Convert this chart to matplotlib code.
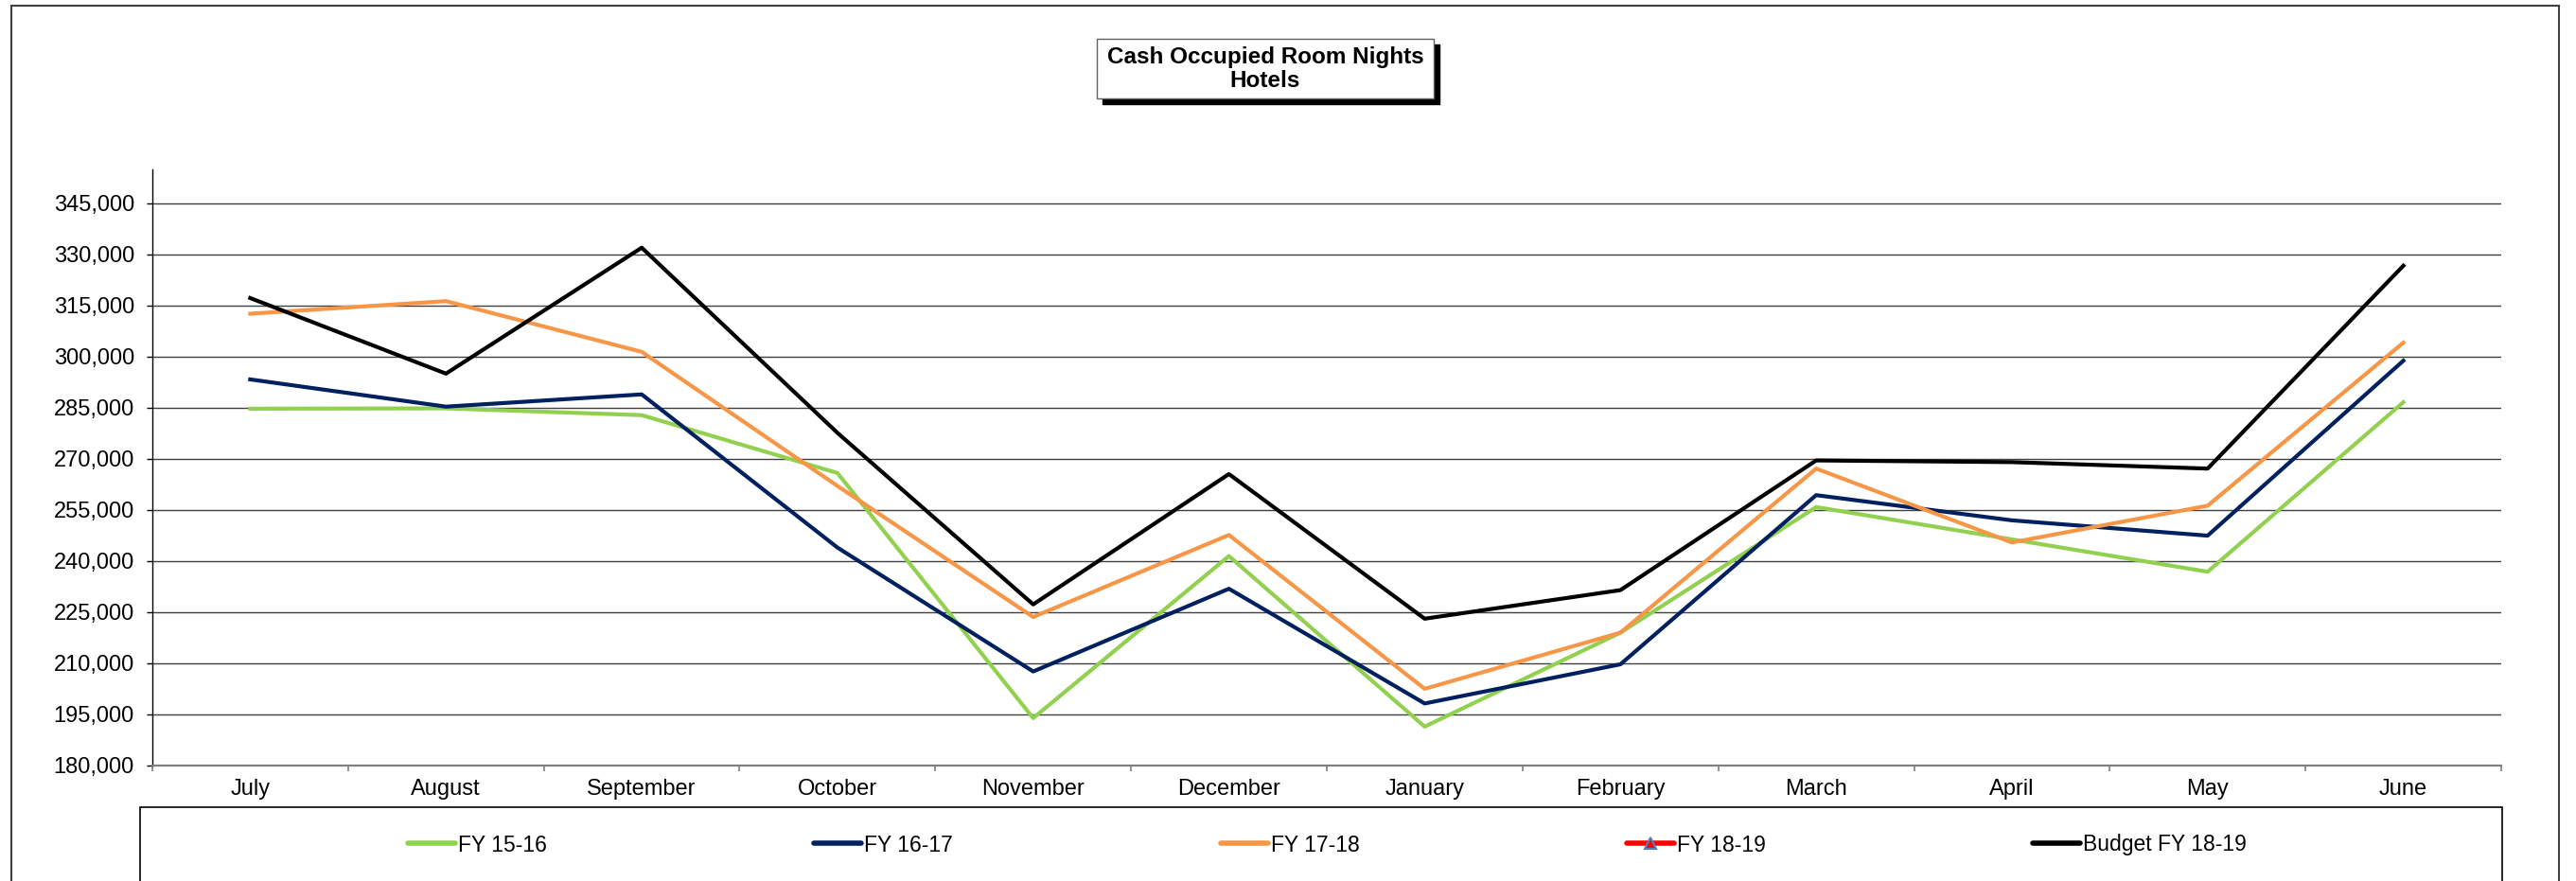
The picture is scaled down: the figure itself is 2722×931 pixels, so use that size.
import numpy as np
import matplotlib
matplotlib.use('Agg')
import matplotlib.pyplot as plt
from matplotlib.patches import Rectangle
from matplotlib.ticker import FuncFormatter, FixedLocator

plt.rcParams['font.family'] = ['Liberation Sans', 'DejaVu Sans']

months = ['July', 'August', 'September', 'October', 'November', 'December',
          'January', 'February', 'March', 'April', 'May', 'June']
fy1516 = [284700, 284800, 282800, 265800, 193800, 241400,
          191300, 218900, 255800, 246300, 236800, 286600]
fy1617 = [293300, 285300, 288900, 243900, 207500, 231800,
          198100, 209600, 259300, 251900, 247400, 298800]
fy1718 = [312600, 316300, 301400, 262000, 223500, 247600,
          202400, 218900, 267100, 245400, 256200, 304100]
fy1819 = [None] * 12   # no actuals yet
budget = [317200, 295000, 332000, 277600, 227200, 265500,
          223000, 231400, 269500, 269000, 267100, 326700]
yticks = list(range(180000, 345001, 15000))

W, H = 2722, 931
fig = plt.figure(figsize=(W / 100, H / 100), dpi=100)

def fx(px):
    return px / W

def fy(py):
    return 1 - py / H

# outer chart border
fig.patches.append(Rectangle((fx(12), fy(940)), fx(2704) - fx(12), fy(6) - fy(940),
                             transform=fig.transFigure, fill=False,
                             edgecolor='#404040', lw=1.5))

ax = fig.add_axes([fx(161), fy(808.5), fx(2643) - fx(161), fy(179) - fy(808.5)])
x = np.arange(len(months))

lw = 3.0
l1, = ax.plot(x, fy1516, color='#92D050', lw=lw, label='FY 15-16')
l2, = ax.plot(x, fy1617, color='#002060', lw=lw, label='FY 16-17')
l3, = ax.plot(x, fy1718, color='#F79646', lw=lw, label='FY 17-18')
l4, = ax.plot(x, np.array(fy1819, dtype=float), color='#FF0000', lw=lw,
              marker='^', markersize=8, markerfacecolor='#FF0000',
              markeredgecolor='#4F81BD', markeredgewidth=1.5, label='FY 18-19')
l5, = ax.plot(x, budget, color='black', lw=lw, label='Budget FY 18-19')

ax.set_xlim(-0.5, 11.5)
ax.set_ylim(180000, 355000)
ax.set_yticks(yticks)
ax.yaxis.set_major_formatter(FuncFormatter(lambda v, p: '{:,.0f}'.format(v)))
ax.grid(axis='y', color='#404040', lw=1.0)
ax.set_axisbelow(True)

ax.set_xticks(x)
ax.set_xticklabels(months)
ax.xaxis.set_minor_locator(FixedLocator(np.arange(-0.5, 12, 1)))
ax.tick_params(axis='x', which='major', length=0, pad=10.5, labelsize=17)
ax.tick_params(axis='x', which='minor', length=4.3, width=1.2, color='#808080')
ax.tick_params(axis='y', length=4.3, width=1, pad=9.5, labelsize=17)

for s in ['top', 'right']:
    ax.spines[s].set_visible(False)
ax.spines['left'].set_color('black')
ax.spines['left'].set_linewidth(1)
ax.spines['bottom'].set_color('#808080')
ax.spines['bottom'].set_linewidth(1.6)

# title box with shadow
fig.patches.append(Rectangle((fx(1165), fy(110)), fx(1521) - fx(1165), fy(47) - fy(110),
                             transform=fig.transFigure, facecolor='black', edgecolor='black'))
fig.patches.append(Rectangle((fx(1159), fy(104)), fx(1515) - fx(1159), fy(41) - fy(104),
                             transform=fig.transFigure, facecolor='white',
                             edgecolor='#606060', lw=1))
fig.text(fx(1337), fy(73), 'Cash Occupied Room Nights\nHotels', ha='center', va='center',
         fontsize=17.5, fontweight='bold', linespacing=1.15)

# legend box and entries
fig.patches.append(Rectangle((fx(148), fy(940)), fx(2644) - fx(148), fy(853) - fy(940),
                             transform=fig.transFigure, fill=False,
                             edgecolor='black', lw=1.2))
starts = [431, 860, 1290, 1719, 2148]
for h, sx in zip([l1, l2, l3, l4, l5], starts):
    leg = fig.legend(handles=[h], labels=[h.get_label()], loc='center left',
                     bbox_to_anchor=(fx(sx), fy(893)), frameon=False,
                     borderpad=0, borderaxespad=0, handlelength=2.2,
                     handletextpad=0.1, prop={'size': 16.5})
    for ln in leg.get_lines():
        ln.set_linewidth(4)
        ln.set_solid_capstyle('round')

fig.savefig('out.png', dpi=100)
